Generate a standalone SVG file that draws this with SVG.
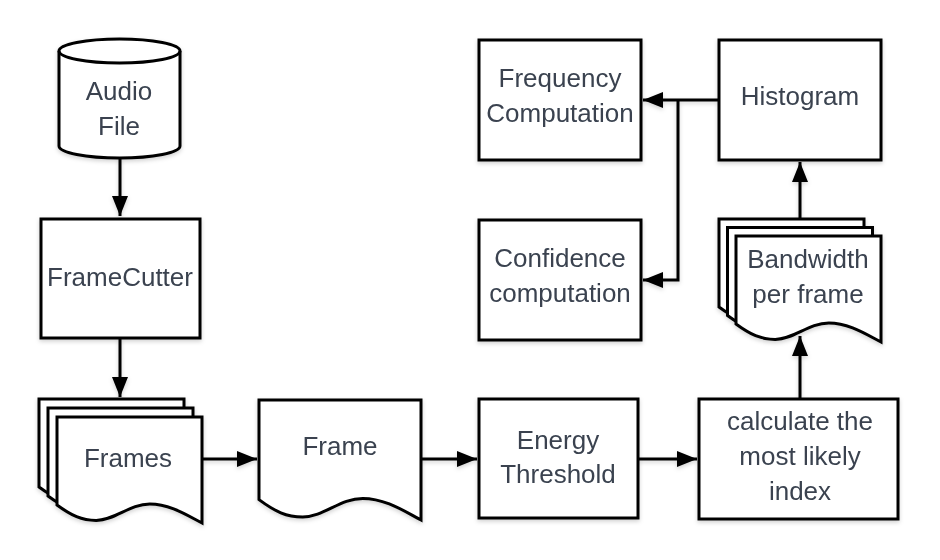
<svg xmlns="http://www.w3.org/2000/svg" width="940" height="560" viewBox="0 0 940 560">
<style>
.s{fill:#ffffff;stroke:#000000;stroke-width:3;stroke-linejoin:miter}
.t{font-family:"Liberation Sans",Arial,sans-serif;font-size:26px;fill:#3a4350;text-anchor:middle}
.c{fill:none;stroke:#000000;stroke-width:3}
</style>
<defs>
<filter id="sh" x="-10%" y="-10%" width="130%" height="130%">
<feDropShadow dx="0" dy="2" stdDeviation="2" flood-color="#000000" flood-opacity="0.18"/>
</filter>
<marker id="ar" markerUnits="userSpaceOnUse" markerWidth="20" markerHeight="16" refX="20" refY="8" orient="auto">
<path d="M0,0 L20,8 L0,16 Z" fill="#000000"/>
</marker>
<path id="doc" d="M0,0 H145 V106 C130.5,98.6 113.1,87 92.8,87 C72.5,87 58,103.4 39.2,103.4 C24.7,103.4 14.5,98.6 0,88 Z"/>
</defs>
<rect width="940" height="560" fill="#ffffff"/>
<g id="connectors" class="c" filter="url(#sh)">
<path d="M120,158 V216" marker-end="url(#ar)"/>
<path d="M120,338 V397" marker-end="url(#ar)"/>
<path d="M202,459 H257" marker-end="url(#ar)"/>
<path d="M421,459 H477" marker-end="url(#ar)"/>
<path d="M638,459 H697" marker-end="url(#ar)"/>
<path d="M800,399 V336" marker-end="url(#ar)"/>
<path d="M800,219 V162" marker-end="url(#ar)"/>
<path d="M719,100 H643" marker-end="url(#ar)"/>
<path d="M678,100 V280 H643" marker-end="url(#ar)"/>
</g>
<g id="audio-file" filter="url(#sh)">
<path class="s" d="M59,51 V146 A60.5,12 0 0 0 180,146 V51 A60.5,12 0 0 0 59,51 Z"/>
<path class="c" d="M59,51 A60.5,12 0 0 0 180,51"/>
<text class="t" x="119" y="100">Audio</text>
<text class="t" x="119" y="135">File</text>
</g>
<g id="framecutter" filter="url(#sh)">
<rect class="s" x="41" y="219" width="159" height="119"/>
<text class="t" x="120" y="286">FrameCutter</text>
</g>
<g id="frames" filter="url(#sh)">
<use href="#doc" class="s" x="39" y="399"/>
<use href="#doc" class="s" x="48" y="408"/>
<use href="#doc" class="s" x="57" y="417"/>
<text class="t" x="128" y="467">Frames</text>
</g>
<g id="frame" filter="url(#sh)">
<path class="s" d="M259,400 H421 V520 C404.8,511.6 385.4,498.4 362.7,498.4 C340,498.4 323.8,517 302.7,517 C286.5,517 275.2,511.6 259,499.6 Z"/>
<text class="t" x="340" y="455">Frame</text>
</g>
<g id="energy-threshold" filter="url(#sh)">
<rect class="s" x="479" y="399" width="159" height="119"/>
<text class="t" x="558" y="449">Energy</text>
<text class="t" x="558" y="483">Threshold</text>
</g>
<g id="calculate-index" filter="url(#sh)">
<rect class="s" x="699" y="399" width="199" height="120"/>
<text class="t" x="800" y="430">calculate the</text>
<text class="t" x="800" y="465">most likely</text>
<text class="t" x="800" y="500">index</text>
</g>
<g id="bandwidth" filter="url(#sh)">
<use href="#doc" class="s" x="719" y="219"/>
<use href="#doc" class="s" x="727.5" y="227.5"/>
<use href="#doc" class="s" x="736" y="236"/>
<text class="t" x="808" y="268">Bandwidth</text>
<text class="t" x="808" y="303">per frame</text>
</g>
<g id="histogram" filter="url(#sh)">
<rect class="s" x="719" y="40" width="162" height="120"/>
<text class="t" x="800" y="105">Histogram</text>
</g>
<g id="frequency-computation" filter="url(#sh)">
<rect class="s" x="479" y="40" width="162" height="120"/>
<text class="t" x="560" y="87">Frequency</text>
<text class="t" x="560" y="122">Computation</text>
</g>
<g id="confidence-computation" filter="url(#sh)">
<rect class="s" x="479" y="220" width="162" height="120"/>
<text class="t" x="560" y="267">Confidence</text>
<text class="t" x="560" y="302">computation</text>
</g>
</svg>
